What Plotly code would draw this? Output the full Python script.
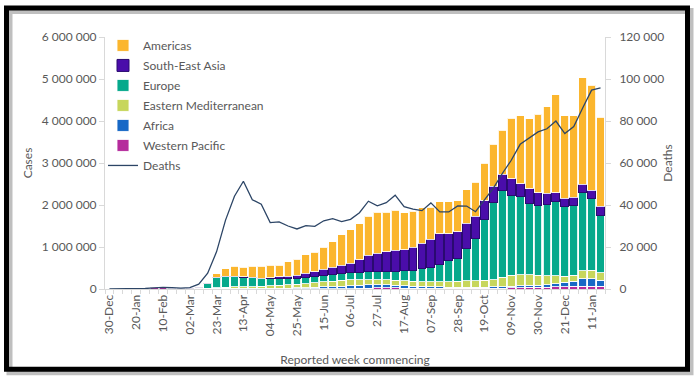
import plotly.graph_objects as go

weeks = ["30-Dec", "06-Jan", "13-Jan", "20-Jan", "27-Jan", "03-Feb", "10-Feb", "17-Feb", "24-Feb",
         "02-Mar", "09-Mar", "16-Mar", "23-Mar", "30-Mar", "06-Apr", "13-Apr", "20-Apr", "27-Apr",
         "04-May", "11-May", "18-May", "25-May", "01-Jun", "08-Jun", "15-Jun", "22-Jun", "29-Jun",
         "06-Jul", "13-Jul", "20-Jul", "27-Jul", "03-Aug", "10-Aug", "17-Aug", "24-Aug", "31-Aug",
         "07-Sep", "14-Sep", "21-Sep", "28-Sep", "05-Oct", "12-Oct", "19-Oct", "26-Oct", "02-Nov",
         "09-Nov", "16-Nov", "23-Nov", "30-Nov", "07-Dec", "14-Dec", "21-Dec", "28-Dec", "04-Jan",
         "11-Jan", "18-Jan"]

western_pacific = [0, 0, 1000, 3000, 14000, 25000, 28000, 10000, 6000, 5000, 8000, 10000, 12000, 15000,
                   17000, 12000, 8000, 6000, 5000, 5000, 5000, 5000, 6000, 6000, 8000, 9000, 10000,
                   12000, 16000, 20000, 25000, 28000, 25000, 22000, 20000, 18000, 17000, 16000, 16000,
                   15000, 16000, 16000, 18000, 20000, 22000, 28000, 35000, 40000, 42000, 45000, 50000,
                   55000, 60000, 70000, 70000, 60000]
africa = [0, 0, 0, 0, 0, 0, 0, 0, 0, 0, 1000, 2000, 3000, 5000, 6000, 7000, 8000, 10000, 12000, 15000,
          18000, 20000, 25000, 30000, 40000, 45000, 55000, 65000, 75000, 80000, 80000, 75000, 70000,
          60000, 50000, 45000, 40000, 35000, 30000, 25000, 25000, 25000, 28000, 30000, 32000, 35000,
          40000, 45000, 50000, 60000, 80000, 100000, 120000, 170000, 170000, 150000]
eastern_med = [0, 0, 0, 0, 0, 0, 0, 0, 2000, 2000, 5000, 10000, 20000, 25000, 30000, 35000, 40000,
               45000, 55000, 65000, 75000, 85000, 100000, 110000, 120000, 130000, 140000, 140000,
               130000, 125000, 120000, 115000, 110000, 110000, 110000, 115000, 120000, 125000, 130000,
               140000, 150000, 150000, 160000, 170000, 220000, 260000, 260000, 250000, 230000, 210000,
               180000, 150000, 150000, 190000, 210000, 180000]
europe = [0, 0, 0, 0, 0, 0, 0, 1000, 8000, 15000, 30000, 110000, 240000, 260000, 250000, 230000,
          210000, 180000, 170000, 160000, 150000, 150000, 150000, 150000, 150000, 160000, 160000,
          170000, 180000, 190000, 200000, 210000, 220000, 250000, 270000, 300000, 340000, 410000,
          510000, 550000, 770000, 1020000, 1440000, 1850000, 2060000, 1900000, 1860000, 1700000,
          1670000, 1700000, 1770000, 1650000, 1670000, 1860000, 1700000, 1370000]
south_east_asia = [0, 0, 0, 0, 0, 0, 0, 0, 0, 0, 0, 1000, 2000, 3000, 5000, 8000, 12000, 18000,
                   30000, 45000, 55000, 70000, 90000, 110000, 150000, 170000, 200000, 230000, 300000,
                   390000, 430000, 460000, 500000, 490000, 550000, 610000, 670000, 730000, 630000,
                   630000, 600000, 520000, 450000, 380000, 400000, 400000, 310000, 350000, 300000,
                   270000, 210000, 200000, 190000, 200000, 200000, 210000]
americas = [0, 0, 0, 0, 0, 0, 0, 0, 0, 8000, 6000, 20000, 90000, 175000, 232000, 228000, 262000,
            281000, 288000, 280000, 347000, 380000, 439000, 464000, 532000, 616000, 725000, 793000,
            849000, 925000, 975000, 942000, 945000, 878000, 850000, 852000, 763000, 764000, 764000,
            740000, 799000, 809000, 894000, 1000000, 1046000, 1437000, 1615000, 1665000, 1868000,
            2055000, 2340000, 1965000, 1930000, 2540000, 2500000, 2120000]
deaths = [0, 0, 50, 100, 250, 500, 800, 700, 450, 700, 2300, 7500, 17800, 32800, 44200, 51300,
          42500, 40400, 31600, 32000, 30000, 28600, 30200, 29800, 32500, 33500, 32100, 33200, 36300,
          41800, 39600, 41100, 44700, 39200, 38000, 37300, 41000, 36700, 36700, 39600, 39500, 36800,
          42300, 48000, 55000, 61300, 68900, 71800, 74800, 76300, 80000, 74000, 77400, 86200, 94700,
          95800]

tick_text = [w if i % 3 == 0 else "" for i, w in enumerate(weeks)]

FONT = "Lato, 'Open Sans', sans-serif"
GREY = "#595959"
AXIS = "#d9d9d9"

fig = go.Figure()

bar_series = [
    ("Western Pacific", western_pacific, "#B52B9C", "rgba(255,255,255,0.85)", 6),
    ("Africa", africa, "#1768C6", "rgba(255,255,255,0.85)", 5),
    ("Eastern Mediterranean", eastern_med, "#C7D65C", "rgba(255,255,255,0.85)", 4),
    ("Europe", europe, "#06A98C", "rgba(255,255,255,0.85)", 3),
    ("South-East Asia", south_east_asia, "#4A0DAA", "#2A0A70", 2),
    ("Americas", americas, "#FBB62E", "rgba(255,255,255,0.85)", 1),
]
for name, vals, col, lcol, rank in bar_series:
    fig.add_trace(go.Bar(x=weeks, y=vals, name=name, marker=dict(color=col, line=dict(color=lcol, width=1)),
                         legendgroup="g%d" % rank, legendrank=rank))

fig.add_trace(go.Scatter(x=weeks, y=deaths, name="Deaths", yaxis="y2", mode="lines",
                         line=dict(color="#2C4566", width=1.3), legendgroup="g7", legendrank=7))

# frame geometry in paper coordinates (plot area: x 105..605 px, y 36.5..289 px)
def px_x(p):
    return (p - 105) / 500.0

def px_y(p):
    return (289 - p) / 252.5

shapes = [
    dict(type="rect", xref="paper", yref="paper", x0=px_x(9.5), x1=px_x(690.5), y0=px_y(372.5), y1=px_y(10.5),
         line=dict(color="rgba(0,0,0,0.25)", width=6), layer="above"),
    dict(type="rect", xref="paper", yref="paper", x0=px_x(6.5), x1=px_x(687.5), y0=px_y(369.5), y1=px_y(7.5),
         line=dict(color="#000000", width=5), layer="above"),
]

fig.update_layout(
    width=700, height=383,
    margin=dict(l=105, r=95, t=36.5, b=94),
    paper_bgcolor="white", plot_bgcolor="white",
    barmode="stack", bargap=0.12,
    separators=". ",
    font=dict(family=FONT, size=12, color=GREY),
    showlegend=True,
    legend=dict(x=-0.004, y=1.024, xanchor="left", yanchor="top", traceorder="grouped",
                tracegroupgap=1, font=dict(family=FONT, size=12, color=GREY),
                bgcolor="rgba(0,0,0,0)", itemwidth=30),
    xaxis=dict(type="category", tickmode="array", tickvals=weeks, ticktext=tick_text, tickangle=-90,
               tickson="boundaries", ticks="outside", ticklen=4, tickcolor=AXIS, showline=True,
               linecolor=AXIS, showgrid=False, tickfont=dict(size=12, color=GREY),
               title=dict(text="Reported week commencing", font=dict(size=12, color=GREY), standoff=20)),
    yaxis=dict(range=[0, 6000000], dtick=1000000, exponentformat="none", showgrid=False, zeroline=False,
               showline=True, linecolor=AXIS, ticks="outside", ticklen=5, tickcolor=AXIS,
               tickfont=dict(size=12, color=GREY),
               title=dict(text="Cases", font=dict(size=12, color=GREY), standoff=6)),
    yaxis2=dict(range=[0, 120000], dtick=20000, exponentformat="none", overlaying="y", side="right",
                showgrid=False, zeroline=False, showline=True, linecolor=AXIS, ticks="outside", ticklen=5,
                tickcolor=AXIS, tickfont=dict(size=12, color=GREY), ticklabelstandoff=6,
                title=dict(text="Deaths", font=dict(size=12, color=GREY), standoff=0)),
    shapes=shapes,
)

fig.write_html("out.html", config={"displayModeBar": False},
               post_script="document.body.style.margin='0';")
